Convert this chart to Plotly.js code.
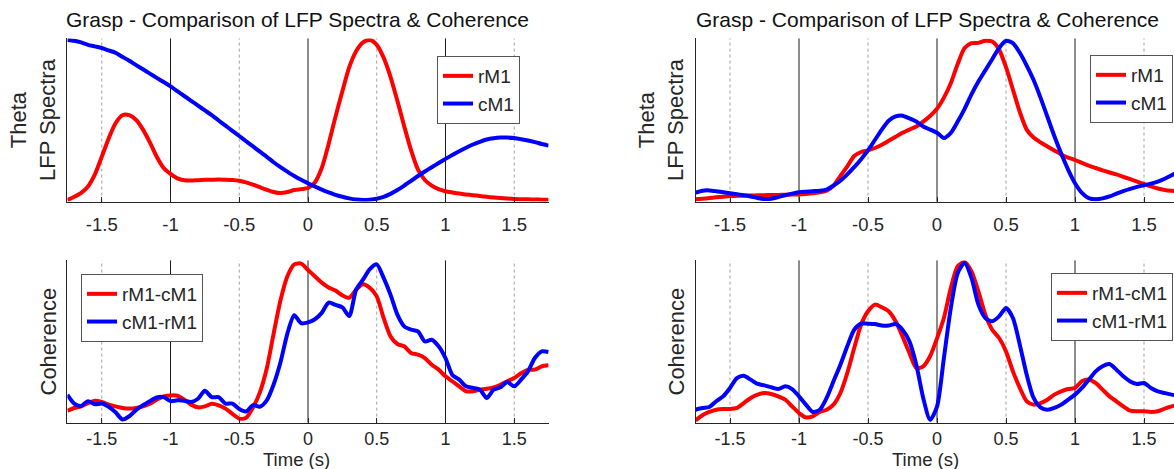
<!DOCTYPE html>
<html>
<head>
<meta charset="utf-8">
<script src="https://cdn.plot.ly/plotly-3.0.1.min.js"></script>
<style>html,body{margin:0;padding:0;background:#fff;}#chart{width:1174px;height:469px;}</style>
</head>
<body>
<div id="chart"></div>
<script>
// time grid (s)
const timeS = [-1.75,-1.70,-1.65,-1.60,-1.55,-1.50,-1.45,-1.40,-1.35,-1.30,-1.25,-1.20,-1.15,-1.10,-1.05,-1.00,-0.95,-0.90,-0.85,-0.80,-0.75,-0.70,-0.65,-0.60,-0.55,-0.50,-0.45,-0.40,-0.35,-0.30,-0.25,-0.20,-0.15,-0.10,-0.05,
  0.00,0.05,0.10,0.15,0.20,0.25,0.30,0.35,0.40,0.45,0.50,0.55,0.60,0.65,0.70,0.75,0.80,0.85,0.90,0.95,1.00,1.05,1.10,1.15,1.20,1.25,1.30,1.35,1.40,1.45,1.50,1.55,1.60,1.65,1.70,1.75];

// Top-left: Theta LFP spectra
const spectraLeft_rM1 = [0.0,0.02,0.045,0.085,0.16,0.27,0.385,0.48,0.53,0.53,0.5,0.44,0.36,0.27,0.2,0.163,0.135,0.123,0.122,0.124,0.126,0.127,0.128,0.127,0.125,0.12,0.11,0.096,0.08,0.064,0.05,0.043,0.05,0.062,0.068,
  0.075,0.11,0.2,0.35,0.52,0.68,0.83,0.93,0.985,1.0,0.97,0.89,0.77,0.62,0.46,0.31,0.19,0.125,0.09,0.068,0.055,0.047,0.04,0.035,0.03,0.025,0.02,0.016,0.013,0.009,0.006,0.005,0.004,0.003,0.002,0.002];
const spectraLeft_cM1 = [1.0,0.995,0.985,0.97,0.96,0.95,0.935,0.92,0.895,0.87,0.843,0.817,0.79,0.763,0.737,0.71,0.68,0.65,0.62,0.59,0.56,0.53,0.497,0.465,0.432,0.40,0.367,0.335,0.302,0.27,0.236,0.205,0.177,0.15,0.126,
  0.105,0.084,0.065,0.048,0.032,0.02,0.01,0.003,0.0,0.002,0.008,0.02,0.038,0.062,0.09,0.12,0.15,0.178,0.205,0.231,0.257,0.282,0.305,0.327,0.347,0.364,0.378,0.386,0.39,0.39,0.387,0.38,0.372,0.362,0.35,0.34];

// Top-right: Theta LFP spectra
const spectraRight_rM1 = [0.004,0.008,0.012,0.017,0.021,0.025,0.026,0.027,0.028,0.029,0.03,0.031,0.032,0.033,0.034,0.035,0.038,0.042,0.048,0.058,0.09,0.15,0.21,0.275,0.3,0.31,0.325,0.345,0.37,0.395,0.42,0.44,0.46,0.49,0.525,
  0.57,0.64,0.73,0.85,0.95,0.98,0.982,0.995,0.99,0.94,0.83,0.69,0.55,0.44,0.39,0.36,0.335,0.31,0.285,0.265,0.25,0.232,0.215,0.2,0.185,0.172,0.16,0.145,0.13,0.115,0.1,0.085,0.072,0.063,0.058,0.055];
const spectraRight_cM1 = [0.046,0.058,0.06,0.055,0.048,0.042,0.036,0.03,0.022,0.012,0.006,0.008,0.018,0.03,0.04,0.048,0.052,0.055,0.058,0.065,0.09,0.12,0.16,0.205,0.255,0.31,0.375,0.44,0.495,0.522,0.527,0.51,0.49,0.46,0.44,
  0.42,0.388,0.42,0.49,0.57,0.66,0.74,0.81,0.88,0.95,0.995,0.98,0.92,0.84,0.75,0.64,0.52,0.4,0.29,0.19,0.105,0.045,0.012,0.005,0.01,0.022,0.04,0.056,0.07,0.082,0.092,0.102,0.115,0.133,0.155,0.175];

// Bottom-left: coherence
const cohLeft_rM1cM1 = [0.065,0.082,0.092,0.113,0.128,0.12,0.103,0.092,0.082,0.078,0.082,0.092,0.109,0.134,0.155,0.161,0.159,0.134,0.103,0.086,0.092,0.109,0.099,0.078,0.045,0.015,0.02,0.085,0.18,0.33,0.55,0.76,0.91,0.985,0.99,
  0.95,0.91,0.87,0.84,0.82,0.79,0.775,0.826,0.86,0.837,0.784,0.648,0.532,0.484,0.47,0.428,0.417,0.396,0.354,0.323,0.281,0.25,0.218,0.187,0.187,0.197,0.203,0.212,0.228,0.25,0.27,0.30,0.323,0.323,0.344,0.35];
const cohLeft_cM1rM1 = [0.165,0.11,0.095,0.125,0.105,0.11,0.09,0.055,0.01,0.03,0.07,0.1,0.125,0.148,0.15,0.125,0.13,0.128,0.12,0.14,0.19,0.15,0.15,0.11,0.11,0.075,0.06,0.1,0.09,0.13,0.23,0.37,0.55,0.665,0.615,
  0.62,0.64,0.68,0.745,0.73,0.715,0.66,0.826,0.889,0.955,0.985,0.9,0.795,0.669,0.595,0.574,0.564,0.5,0.511,0.47,0.396,0.29,0.26,0.218,0.208,0.197,0.145,0.197,0.212,0.245,0.218,0.26,0.312,0.396,0.438,0.434];

// Bottom-right: coherence
const cohRight_rM1cM1 = [0.004,0.036,0.057,0.071,0.075,0.075,0.082,0.113,0.145,0.166,0.176,0.17,0.155,0.134,0.092,0.05,0.023,0.029,0.057,0.071,0.103,0.176,0.302,0.459,0.606,0.69,0.732,0.715,0.69,0.627,0.532,0.428,0.333,0.344,0.407,
  0.52,0.648,0.836,0.973,1.0,0.94,0.815,0.669,0.574,0.522,0.438,0.312,0.208,0.124,0.103,0.113,0.134,0.166,0.187,0.201,0.208,0.25,0.26,0.239,0.197,0.155,0.124,0.092,0.065,0.061,0.061,0.057,0.061,0.078,0.092,0.103];
const cohRight_cM1rM1 = [0.071,0.082,0.088,0.124,0.155,0.208,0.27,0.285,0.26,0.233,0.224,0.212,0.201,0.218,0.201,0.155,0.103,0.057,0.071,0.145,0.25,0.354,0.47,0.574,0.612,0.612,0.61,0.6,0.6,0.61,0.574,0.501,0.354,0.145,0.008,
  0.09,0.396,0.71,0.93,0.994,0.9,0.732,0.648,0.627,0.658,0.71,0.648,0.48,0.291,0.145,0.086,0.071,0.082,0.103,0.134,0.166,0.208,0.26,0.312,0.344,0.358,0.323,0.281,0.249,0.233,0.239,0.208,0.187,0.176,0.166,0.16];

const tickVals = [-1.5,-1,-0.5,0,0.5,1,1.5];
const tickText = ['-1.5','-1','-0.5','0','0.5','1','1.5'];
const solidLines = [-1,0,1];
const dottedLines = [-1.5,-0.5,0.5,1.5];
const spectraNames = ['rM1','cM1'];
const cohNames = ['rM1-cM1','cM1-rM1'];
const titleText = 'Grasp - Comparison of LFP Spectra & Coherence';

const RED = '#ff0000', BLUE = '#0000ff';
const FONT = 'Arial, Liberation Sans, Helvetica, sans-serif';
const INK = '#262626';

function tr(y, name, color, n, legend) {
  return {x: timeS, y: y, name: name, type: 'scatter', mode: 'lines',
    line: {color: color, width: 4, shape: 'spline', smoothing: 0.7},
    xaxis: 'x' + (n === 1 ? '' : n), yaxis: 'y' + (n === 1 ? '' : n),
    legend: legend, hoverinfo: 'skip'};
}
const data = [
  tr(spectraLeft_rM1, spectraNames[0], RED, 1, 'legend'),
  tr(spectraLeft_cM1, spectraNames[1], BLUE, 1, 'legend'),
  tr(spectraRight_rM1, spectraNames[0], RED, 2, 'legend2'),
  tr(spectraRight_cM1, spectraNames[1], BLUE, 2, 'legend2'),
  tr(cohLeft_rM1cM1, cohNames[0], RED, 3, 'legend3'),
  tr(cohLeft_cM1rM1, cohNames[1], BLUE, 3, 'legend3'),
  tr(cohRight_rM1cM1, cohNames[0], RED, 4, 'legend4'),
  tr(cohRight_cM1rM1, cohNames[1], BLUE, 4, 'legend4')
];

const W = 1174, H = 469;
const xLeftDom = [67.4 / W, 548.6 / W];
const xRightDom = [695.5 / W, 1];
const yTopDom = [1 - 201.6 / H, 1 - 38.4 / H];
const yBotDom = [1 - 422.6 / H, 1 - 260.4 / H];

function xax(domain, range, anchor, standoff, fsize) {
  return {domain: domain, range: range, anchor: anchor, tickmode: 'array', tickvals: tickVals, ticktext: tickText,
    ticks: 'inside', ticklen: 5, tickcolor: INK, showline: true, linecolor: INK, linewidth: 1,
    showgrid: false, zeroline: false, ticklabelstandoff: standoff,
    tickfont: {family: FONT, size: fsize, color: INK}, fixedrange: true};
}
function yax(domain, anchor) {
  return {domain: domain, range: [-0.01, 1.01], anchor: anchor, showline: true, linecolor: INK, linewidth: 1,
    showticklabels: false, ticks: '', showgrid: false, zeroline: false, fixedrange: true};
}

const shapes = [];
[['x', 'y'], ['x2', 'y2'], ['x3', 'y3'], ['x4', 'y4']].forEach(function (p) {
  solidLines.forEach(function (v) {
    shapes.push({type: 'line', layer: 'below', xref: p[0], yref: p[1] + ' domain', x0: v, x1: v, y0: 0, y1: 1,
      line: {color: '#1a1a1a', width: 1}});
  });
  dottedLines.forEach(function (v) {
    shapes.push({type: 'line', layer: 'below', xref: p[0], yref: p[1] + ' domain', x0: v, x1: v, y0: 0, y1: 1,
      line: {color: '#a0a0a0', width: 1, dash: 'dot'}});
  });
});

function legendBox(x, y, xanchor) {
  return {x: x, y: y, xanchor: xanchor, yanchor: 'top', xref: 'paper', yref: 'paper',
    bgcolor: '#ffffff', bordercolor: '#555555', borderwidth: 1,
    font: {family: FONT, size: 19, color: INK}, tracegroupgap: 0};
}

const annotations = [
  {text: titleText, x: 298 / W, y: 1 - 20 / H, xref: 'paper', yref: 'paper', showarrow: false,
    xanchor: 'center', yanchor: 'middle', font: {family: FONT, size: 21, color: '#111'}},
  {text: titleText, x: 927 / W, y: 1 - 20 / H, xref: 'paper', yref: 'paper', showarrow: false,
    xanchor: 'center', yanchor: 'middle', font: {family: FONT, size: 21, color: '#111'}},
  {text: 'Theta<br>LFP Spectra', x: 33 / W, y: 1 - 120 / H, xref: 'paper', yref: 'paper', showarrow: false,
    textangle: -90, xanchor: 'center', yanchor: 'middle', font: {family: FONT, size: 22, color: INK}},
  {text: 'Theta<br>LFP Spectra', x: 661 / W, y: 1 - 120 / H, xref: 'paper', yref: 'paper', showarrow: false,
    textangle: -90, xanchor: 'center', yanchor: 'middle', font: {family: FONT, size: 22, color: INK}},
  {text: 'Coherence', x: 48 / W, y: 1 - 341.5 / H, xref: 'paper', yref: 'paper', showarrow: false,
    textangle: -90, xanchor: 'center', yanchor: 'middle', font: {family: FONT, size: 22, color: INK}},
  {text: 'Coherence', x: 676 / W, y: 1 - 341.5 / H, xref: 'paper', yref: 'paper', showarrow: false,
    textangle: -90, xanchor: 'center', yanchor: 'middle', font: {family: FONT, size: 22, color: INK}},
  {text: 'Time (s)', x: 297 / W, y: 0, xref: 'paper', yref: 'paper', showarrow: false, borderpad: 0, yshift: -2,
    xanchor: 'center', yanchor: 'bottom', font: {family: FONT, size: 18.5, color: INK}},
  {text: 'Time (s)', x: 926 / W, y: 0, xref: 'paper', yref: 'paper', showarrow: false, borderpad: 0, yshift: -2,
    xanchor: 'center', yanchor: 'bottom', font: {family: FONT, size: 18.5, color: INK}}
];

const layout = {
  width: W, height: H, margin: {l: 0, r: 0, t: 0, b: 0},
  paper_bgcolor: '#ffffff', plot_bgcolor: '#ffffff',
  font: {family: FONT, color: INK},
  showlegend: true,
  xaxis: xax(xLeftDom, [-1.75, 1.75], 'y', 6, 18.5),
  yaxis: yax(yTopDom, 'x'),
  xaxis2: xax(xRightDom, [-1.75, 1.7174], 'y2', 6, 18.5),
  yaxis2: yax(yTopDom, 'x2'),
  xaxis3: xax(xLeftDom, [-1.75, 1.75], 'y3', 0, 18),
  yaxis3: yax(yBotDom, 'x3'),
  xaxis4: xax(xRightDom, [-1.75, 1.7174], 'y4', 0, 18),
  yaxis4: yax(yBotDom, 'x4'),
  legend: legendBox(437 / W, 1 - 56 / H, 'left'),
  legend2: legendBox(1173 / W, 1 - 55 / H, 'right'),
  legend3: legendBox(81 / W, 1 - 274 / H, 'left'),
  legend4: legendBox(1173 / W, 1 - 273 / H, 'right'),
  shapes: shapes,
  annotations: annotations
};

Plotly.newPlot('chart', data, layout, {staticPlot: true, displayModeBar: false});
</script>
</body>
</html>
